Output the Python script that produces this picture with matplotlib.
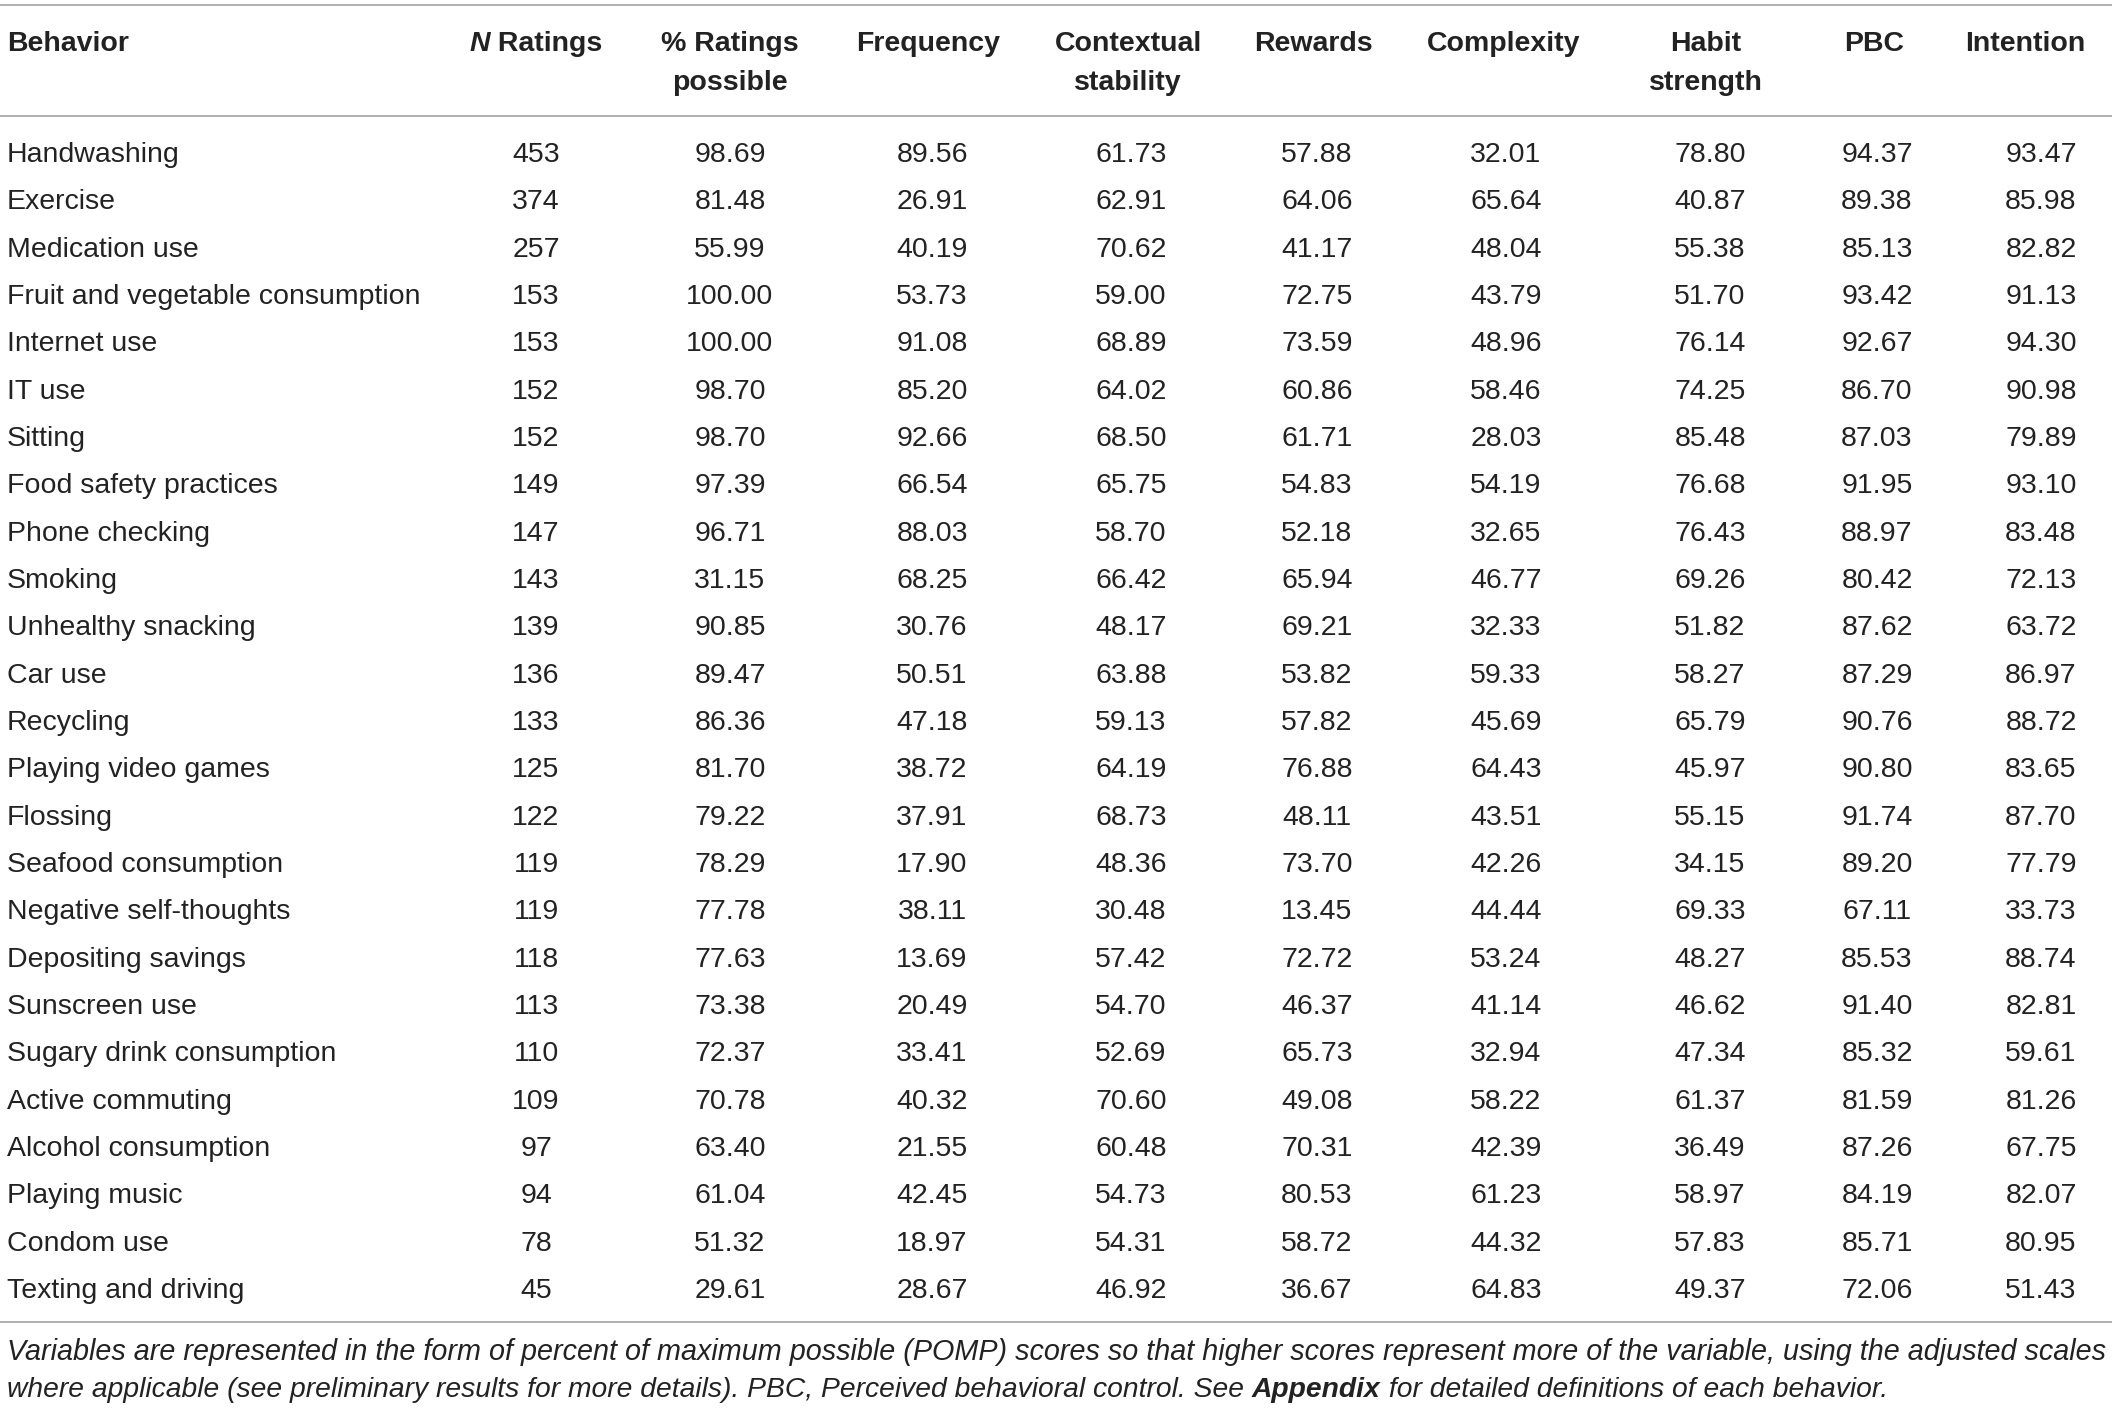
import matplotlib.pyplot as plt

plt.rcParams['font.family'] = ['Liberation Sans', 'DejaVu Sans']

behaviors = [
    "Handwashing", "Exercise", "Medication use", "Fruit and vegetable consumption",
    "Internet use", "IT use", "Sitting", "Food safety practices", "Phone checking",
    "Smoking", "Unhealthy snacking", "Car use", "Recycling", "Playing video games",
    "Flossing", "Seafood consumption", "Negative self-thoughts", "Depositing savings",
    "Sunscreen use", "Sugary drink consumption", "Active commuting",
    "Alcohol consumption", "Playing music", "Condom use", "Texting and driving",
]
n_ratings = [453, 374, 257, 153, 153, 152, 152, 149, 147, 143, 139, 136, 133,
             125, 122, 119, 119, 118, 113, 110, 109, 97, 94, 78, 45]
pct_possible = [98.69, 81.48, 55.99, 100.00, 100.00, 98.70, 98.70, 97.39, 96.71,
                31.15, 90.85, 89.47, 86.36, 81.70, 79.22, 78.29, 77.78, 77.63,
                73.38, 72.37, 70.78, 63.40, 61.04, 51.32, 29.61]
frequency = [89.56, 26.91, 40.19, 53.73, 91.08, 85.20, 92.66, 66.54, 88.03,
             68.25, 30.76, 50.51, 47.18, 38.72, 37.91, 17.90, 38.11, 13.69,
             20.49, 33.41, 40.32, 21.55, 42.45, 18.97, 28.67]
context_stability = [61.73, 62.91, 70.62, 59.00, 68.89, 64.02, 68.50, 65.75, 58.70,
                     66.42, 48.17, 63.88, 59.13, 64.19, 68.73, 48.36, 30.48, 57.42,
                     54.70, 52.69, 70.60, 60.48, 54.73, 54.31, 46.92]
rewards = [57.88, 64.06, 41.17, 72.75, 73.59, 60.86, 61.71, 54.83, 52.18,
           65.94, 69.21, 53.82, 57.82, 76.88, 48.11, 73.70, 13.45, 72.72,
           46.37, 65.73, 49.08, 70.31, 80.53, 58.72, 36.67]
complexity = [32.01, 65.64, 48.04, 43.79, 48.96, 58.46, 28.03, 54.19, 32.65,
              46.77, 32.33, 59.33, 45.69, 64.43, 43.51, 42.26, 44.44, 53.24,
              41.14, 32.94, 58.22, 42.39, 61.23, 44.32, 64.83]
habit_strength = [78.80, 40.87, 55.38, 51.70, 76.14, 74.25, 85.48, 76.68, 76.43,
                  69.26, 51.82, 58.27, 65.79, 45.97, 55.15, 34.15, 69.33, 48.27,
                  46.62, 47.34, 61.37, 36.49, 58.97, 57.83, 49.37]
pbc = [94.37, 89.38, 85.13, 93.42, 92.67, 86.70, 87.03, 91.95, 88.97,
       80.42, 87.62, 87.29, 90.76, 90.80, 91.74, 89.20, 67.11, 85.53,
       91.40, 85.32, 81.59, 87.26, 84.19, 85.71, 72.06]
intention = [93.47, 85.98, 82.82, 91.13, 94.30, 90.98, 79.89, 93.10, 83.48,
             72.13, 63.72, 86.97, 88.72, 83.65, 87.70, 77.79, 33.73, 88.74,
             82.81, 59.61, 81.26, 67.75, 82.07, 80.95, 51.43]

headers = ["N Ratings", "% Ratings\npossible", "Frequency", "Contextual\nstability",
           "Rewards", "Complexity", "Habit\nstrength", "PBC", "Intention"]

caption_1 = ("Variables are represented in the form of percent of maximum possible (POMP) "
             "scores so that higher scores represent more of the variable, using the adjusted scales")
caption_2 = [("where applicable (see preliminary results for more details). PBC, Perceived "
              "behavioral control. See ", "normal"),
             ("Appendix", "bold"),
             (" for detailed definitions of each behavior.", "normal")]

# layout (pixels, y = baselines)
W, H = 2118, 1409
head_x = [536, 730, 928, 1128, 1313, 1504, 1706, 1874, 2025]
val_x = [536, 730, 932, 1131, 1317, 1506, 1710, 1877, 2041]
head_y = [51, 90]
row0, row_step = 162, 47.33
cap_y = [1360, 1397]
fs = 20.5
cap_fs = [20.7, 20.3]
txt_color = "#222222"
rule_color = "#a3a3a3"

fig = plt.figure(figsize=(W / 100, H / 100), dpi=100)
ax = fig.add_axes([0, 0, 1, 1])
ax.set_xlim(0, W)
ax.set_ylim(H, 0)
ax.axis('off')
renderer = fig.canvas.get_renderer()


def chain(x, y, parts, ha='left', **kw):
    arts = []
    cur = x
    for txt, style, weight in parts:
        t = ax.text(cur, y, txt, style=style, weight=weight, ha='left', va='baseline', **kw)
        cur += t.get_window_extent(renderer).width
        arts.append(t)
    if ha == 'center':
        shift = (cur - x) / 2
        for t in arts:
            t.set_x(t.get_position()[0] - shift)
    return arts


# rules
for y in [5, 116, 1322]:
    ax.plot([0, 2112], [y, y], color=rule_color, lw=1.2, solid_capstyle='butt')

# header
ax.text(7, head_y[0], "Behavior", ha='left', va='baseline', fontsize=fs, weight='bold',
        color=txt_color)
for hx, label in zip(head_x, headers):
    if label.startswith("N "):
        chain(hx, head_y[0], [("N", "italic", "bold"), (" Ratings", "normal", "bold")],
              ha='center', fontsize=fs, color=txt_color)
        continue
    for k, line in enumerate(label.split("\n")):
        ax.text(hx, head_y[k], line, ha='center', va='baseline', fontsize=fs,
                weight='bold', color=txt_color)

# body
columns = [n_ratings, pct_possible, frequency, context_stability, rewards,
           complexity, habit_strength, pbc, intention]
for i, name in enumerate(behaviors):
    y = row0 + i * row_step
    ax.text(7, y, name, ha='left', va='baseline', fontsize=fs, color=txt_color)
    for c, (vx, col) in enumerate(zip(val_x, columns)):
        s = str(col[i]) if c == 0 else f"{col[i]:.2f}"
        ax.text(vx, y, s, ha='center', va='baseline', fontsize=fs, color=txt_color)

# caption
ax.text(7, cap_y[0], caption_1, ha='left', va='baseline', fontsize=cap_fs[0], style='italic',
        color=txt_color)
chain(7, cap_y[1], [(t, 'italic', w) for t, w in caption_2], fontsize=cap_fs[1],
      color=txt_color)

fig.savefig("out.png", dpi=100, facecolor='white')
